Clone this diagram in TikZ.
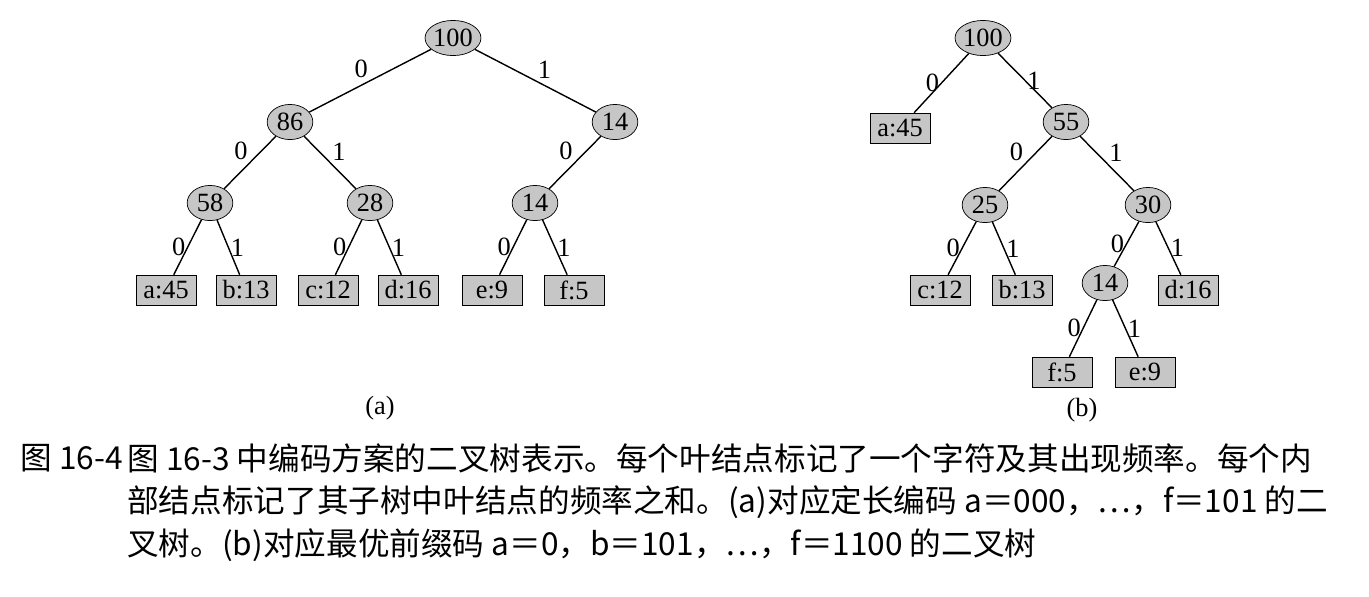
\documentclass[tikz,border=0pt]{standalone}
\usepackage{fontspec}
\setmainfont{Liberation Serif}
\newfontfamily\cjk{Noto Sans CJK SC}
\usetikzlibrary{shapes.geometric}

\begin{document}
\begin{tikzpicture}[x=0.02cm,y=-0.02cm,
  inner/.style={draw,ellipse,fill=gray!45,inner sep=0pt,minimum width=26pt,minimum height=20pt,font=\fontsize{15}{15}\selectfont},
  leaf/.style={draw,rectangle,fill=gray!45,inner sep=1pt,minimum width=34pt,minimum height=17pt,font=\fontsize{15}{15}\selectfont},
  bit/.style={font=\fontsize{15}{15}\selectfont,inner sep=1pt},
  capline/.style={anchor=west,inner sep=0pt,font=\cjk\fontsize{18}{18}\selectfont}]
\useasboundingbox (0,0) rectangle (1369,596);
% tree (a)
\node[inner] (A100) at (453,38) {100};
\node[inner] (A86) at (290,122) {86};
\node[inner] (A14) at (615,122) {14};
\node[inner] (A58) at (210,203) {58};
\node[inner] (A28) at (370,203) {28};
\node[inner] (A14b) at (535,203) {14};
\foreach \n/\t/\x in {a/a:45/166,b/b:13/246,c/c:12/328,d/d:16/408,e/e:9/492,f/f:5/574} {
  \node[leaf] (A\n) at (\x,290) {\t};
}
\foreach \i/\j/\b/\p in {A100/A86/0/above left,A100/A14/1/above right,A86/A58/0/above left,A86/A28/1/above right,
    A14/A14b/0/above left,A58/Aa/0/left,A58/Ab/1/right,A28/Ac/0/left,A28/Ad/1/right,A14b/Ae/0/left,A14b/Af/1/right} {
  \draw[thick] (\i) -- node[bit,\p] {\b} (\j);
}
\node[bit] (capA) at (380,408) {(a)};
% tree (b)
\node[inner] (B100) at (983,38) {100};
\node[leaf] (Ba) at (900,128) {a:45};
\node[inner] (B55) at (1066,122) {55};
\node[inner] (B25) at (985,205) {25};
\node[inner] (B30) at (1148,205) {30};
\node[leaf] (Bc) at (940,290) {c:12};
\node[leaf] (Bb) at (1022,290) {b:13};
\node[inner] (B14) at (1105,283) {14};
\node[leaf] (Bd) at (1188,290) {d:16};
\node[leaf] (Bf) at (1062,372) {f:5};
\node[leaf] (Be) at (1145,372) {e:9};
\foreach \i/\j/\b/\p in {B100/Ba/0/left,B100/B55/1/right,B55/B25/0/above left,B55/B30/1/above right,
    B25/Bc/0/left,B25/Bb/1/right,B30/B14/0/left,B30/Bd/1/right,B14/Bf/0/left,B14/Be/1/right} {
  \draw[thick] (\i) -- node[bit,\p] {\b} (\j);
}
\node[bit] (capB) at (1082,410) {(b)};
% caption
\node[capline] (cap0) at (20,458) {图 16-4};
\node[capline] (cap1) at (127,458) {图 16-3 中编码方案的二叉树表示。每个叶结点标记了一个字符及其出现频率。每个内};
\node[capline] (cap2) at (127,502) {部结点标记了其子树中叶结点的频率之和。(a)对应定长编码 a＝000，…，f＝101 的二};
\node[capline] (cap3) at (127,545) {叉树。(b)对应最优前缀码 a＝0，b＝101，…，f＝1100 的二叉树};
\end{tikzpicture}
\end{document}
